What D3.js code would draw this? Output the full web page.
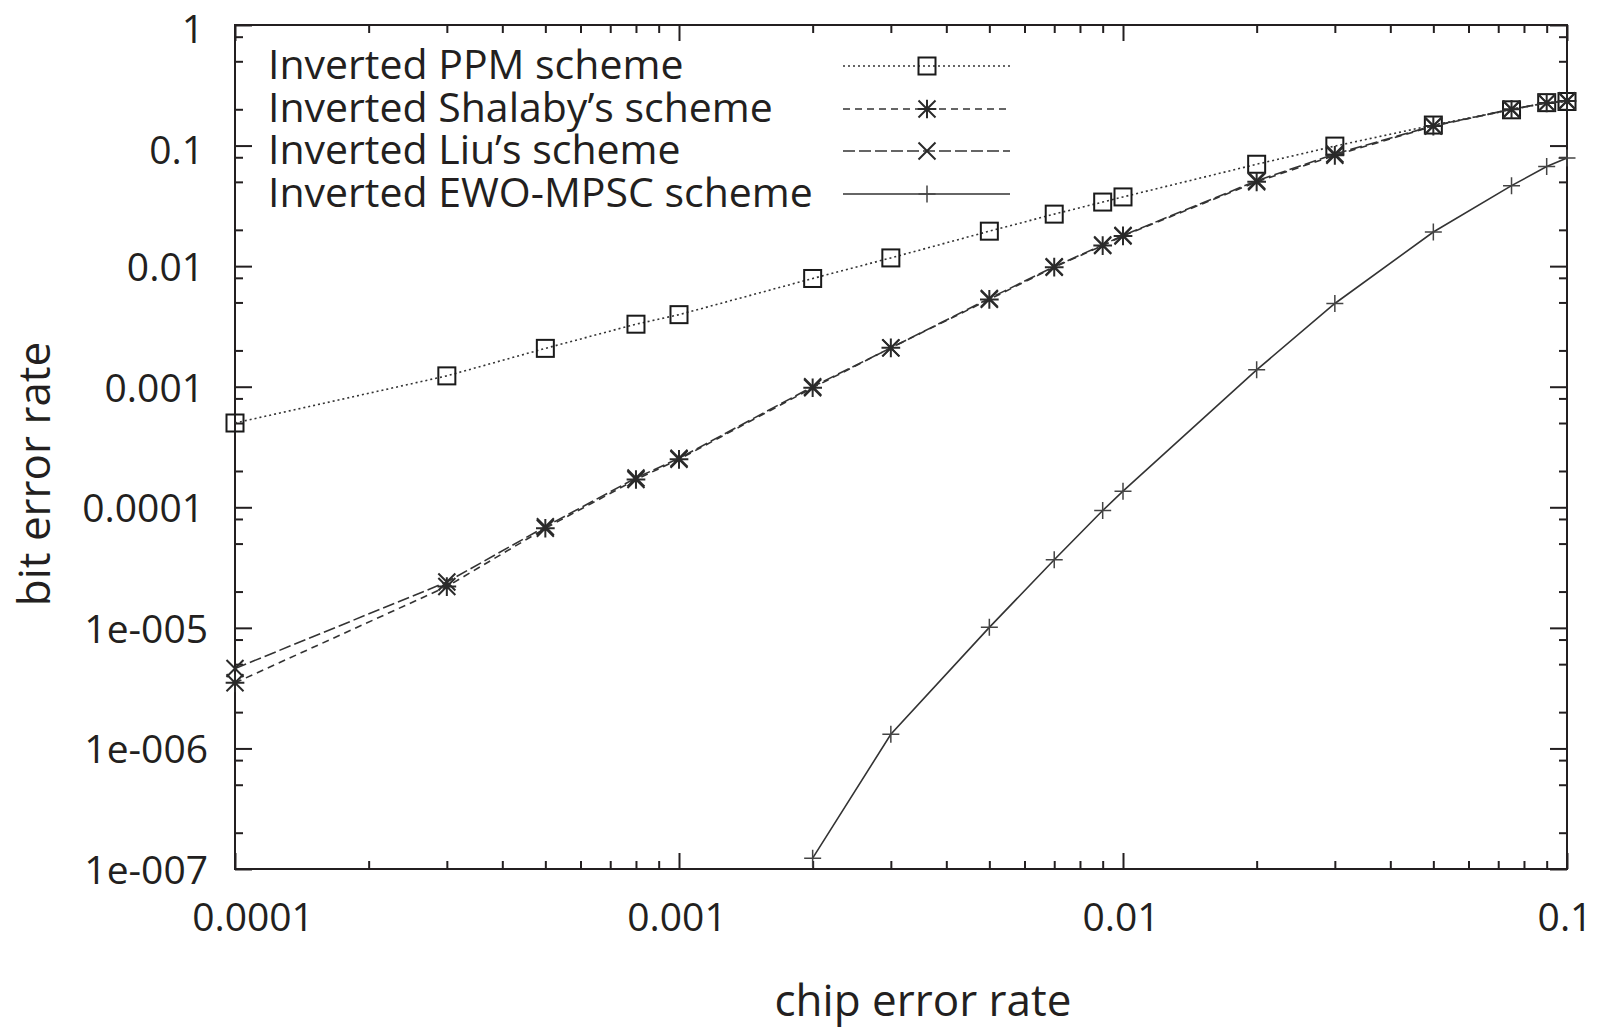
<!DOCTYPE html>
<html>
<head>
<meta charset="utf-8">
<script src="https://cdn.jsdelivr.net/npm/d3@7"></script>
<style>
  html, body { margin: 0; padding: 0; background: #fff; }
  svg { display: block; }
  text { font-family: "Open Sans", "Noto Sans", sans-serif; fill: #231f20; }
</style>
</head>
<body>
<svg id="chart" width="1602" height="1033"></svg>
<script>
// ---- data ----
const chipRates = [0.0001, 0.0003, 0.0005, 0.0008, 0.001, 0.002, 0.003, 0.005, 0.007, 0.009, 0.01, 0.02, 0.03, 0.05, 0.075, 0.09, 0.1];
const ppmBER      = [5.0e-4, 1.23e-3, 2.08e-3, 3.3e-3, 3.96e-3, 7.9e-3, 0.0117, 0.0195, 0.027, 0.034, 0.0375, 0.07, 0.099, 0.148, 0.198, 0.227, 0.232];
const shalabyBER  = [3.5e-6, 2.2e-5, 6.7e-5, 1.7e-4, 2.5e-4, 9.8e-4, 2.1e-3, 5.3e-3, 9.8e-3, 0.0148, 0.0178, 0.05, 0.083, 0.145, 0.2, 0.226, 0.234];
const liuBER      = [4.6e-6, 2.4e-5, 6.9e-5, 1.75e-4, 2.55e-4, 1.0e-3, 2.1e-3, 5.4e-3, 9.9e-3, 0.015, 0.018, 0.051, 0.085, 0.146, 0.2, 0.226, 0.234];
const ewoChipRates = [0.002, 0.003, 0.005, 0.007, 0.009, 0.01, 0.02, 0.03, 0.05, 0.075, 0.09, 0.1];
const ewoBER      = [1.23e-7, 1.31e-6, 1.01e-5, 3.67e-5, 9.4e-5, 1.36e-4, 1.38e-3, 4.9e-3, 0.0192, 0.0465, 0.067, 0.079];

const seriesNames = ["Inverted PPM scheme", "Inverted Shalaby\u2019s scheme", "Inverted Liu\u2019s scheme", "Inverted EWO-MPSC scheme"];

const xTickValues = [0.0001, 0.001, 0.01, 0.1];
const xTickLabels = ["0.0001", "0.001", "0.01", "0.1"];
const yTickValues = [1, 0.1, 0.01, 0.001, 0.0001, 1e-5, 1e-6, 1e-7];
const yTickLabels = ["1", "0.1", "0.01", "0.001", "0.0001", "1e-005", "1e-006", "1e-007"];
const xAxisTitle = "chip error rate";
const yAxisTitle = "bit error rate";

// ---- layout ----
const L = 235, R = 1567, T = 25, B = 869;
const ink = "#231f20";
const svg = d3.select("#chart");

const x = d3.scaleLog().domain([0.0001, 0.1]).range([L, R]);
const y = d3.scaleLog().domain([1e-7, 1]).range([B, T]);

// minor ticks
const xMinor = [];
for (let e = -4; e < -1; e++) for (let m = 2; m <= 9; m++) xMinor.push(m * Math.pow(10, e));
const yMinor = [];
for (let e = -7; e < 0; e++) for (const m of [2, 5, 8]) yMinor.push(m * Math.pow(10, e));

const axes = svg.append("g").attr("stroke", ink).attr("stroke-width", 2);
function tickAxis(axisFn, scale, vals, size, tx, ty) {
  const g = svg.append("g").attr("transform", `translate(${tx},${ty})`)
    .call(axisFn(scale).tickValues(vals).tickSize(size).tickFormat(""));
  g.select(".domain").remove();
  g.selectAll("line").attr("stroke", ink).attr("stroke-width", 2);
}
tickAxis(d3.axisBottom, x, xTickValues, -16, 0, B);
tickAxis(d3.axisBottom, x, xMinor, -8, 0, B);
tickAxis(d3.axisTop, x, xTickValues, -16, 0, T);
tickAxis(d3.axisTop, x, xMinor, -8, 0, T);
tickAxis(d3.axisLeft, y, yTickValues, -17, L, 0);
tickAxis(d3.axisLeft, y, yMinor, -8, L, 0);
tickAxis(d3.axisRight, y, yTickValues, -17, R, 0);
tickAxis(d3.axisRight, y, yMinor, -8, R, 0);

svg.append("rect").attr("x", L).attr("y", T).attr("width", R - L).attr("height", B - T)
  .attr("fill", "none").attr("stroke", ink).attr("stroke-width", 2);

// tick labels
svg.append("g").selectAll("text").data(xTickValues).join("text")
  .attr("x", (d, i) => x(d) + (i === 0 ? 18 : -2))
  .attr("y", 931)
  .attr("text-anchor", "middle")
  .attr("font-size", 39)
  .text((d, i) => xTickLabels[i]);

svg.append("g").selectAll("text").data(yTickValues).join("text")
  .attr("x", (d, i) => 204 + (i >= 5 ? 4 : 0))
  .attr("y", (d, i) => y(d) + 15 + (i < 2 ? 3 : 0))
  .attr("text-anchor", "end")
  .attr("font-size", 39)
  .text((d, i) => yTickLabels[i]);

// axis titles
svg.append("text").attr("x", 923).attr("y", 1016).attr("text-anchor", "middle")
  .attr("font-size", 44).text(xAxisTitle);
svg.append("text").attr("transform", "translate(50,474) rotate(-90)").attr("text-anchor", "middle")
  .attr("font-size", 44).text(yAxisTitle);

// ---- series ----
const styles = [
  { dash: "2,3", marker: "square", color: "#333" },
  { dash: "7,5", marker: "star", color: "#333" },
  { dash: "12,4", marker: "cross", color: "#333" },
  { dash: null, marker: "plus", color: "#333" }
];
const seriesData = [
  chipRates.map((c, i) => [c, ppmBER[i]]),
  chipRates.map((c, i) => [c, shalabyBER[i]]),
  chipRates.map((c, i) => [c, liuBER[i]]),
  ewoChipRates.map((c, i) => [c, ewoBER[i]])
];

const line = d3.line().x(d => x(d[0])).y(d => y(d[1]));

function drawMarker(g, type, cx, cy) {
  const s = 8.5;
  if (type === "square") {
    g.append("rect").attr("x", cx - s).attr("y", cy - s).attr("width", 2 * s).attr("height", 2 * s)
      .attr("fill", "none").attr("stroke", "#1a1a1a").attr("stroke-width", 2);
  } else if (type === "cross") {
    const p = d3.path();
    p.moveTo(cx - s, cy - s); p.lineTo(cx + s, cy + s);
    p.moveTo(cx - s, cy + s); p.lineTo(cx + s, cy - s);
    g.append("path").attr("d", p.toString()).attr("stroke", "#2a2a2a").attr("stroke-width", 2).attr("fill", "none");
  } else if (type === "star") {
    const p = d3.path();
    p.moveTo(cx - s, cy - s); p.lineTo(cx + s, cy + s);
    p.moveTo(cx - s, cy + s); p.lineTo(cx + s, cy - s);
    p.moveTo(cx - s * 1.1, cy); p.lineTo(cx + s * 1.1, cy);
    p.moveTo(cx, cy - s * 1.1); p.lineTo(cx, cy + s * 1.1);
    g.append("path").attr("d", p.toString()).attr("stroke", "#2a2a2a").attr("stroke-width", 2).attr("fill", "none");
  } else if (type === "plus") {
    const p = d3.path();
    p.moveTo(cx - s, cy); p.lineTo(cx + s, cy);
    p.moveTo(cx, cy - s); p.lineTo(cx, cy + s);
    g.append("path").attr("d", p.toString()).attr("stroke", "#444").attr("stroke-width", 1.5).attr("fill", "none");
  }
}

seriesData.forEach((data, si) => {
  const st = styles[si];
  const g = svg.append("g");
  g.append("path").datum(data).attr("d", line)
    .attr("fill", "none").attr("stroke", st.color).attr("stroke-width", 1.6)
    .attr("stroke-dasharray", st.dash);
  data.forEach(d => drawMarker(g, st.marker, x(d[0]), y(d[1])));
});

// ---- legend ----
const legendBaselines = [79, 122, 164, 207];
const leg = svg.append("g");
seriesNames.forEach((name, i) => {
  leg.append("text").attr("x", 268).attr("y", legendBaselines[i]).attr("font-size", 41).text(name);
  const ly = legendBaselines[i] - 13;
  leg.append("line").attr("x1", 843).attr("x2", 1010).attr("y1", ly).attr("y2", ly)
    .attr("stroke", styles[i].color).attr("stroke-width", 1.6).attr("stroke-dasharray", styles[i].dash);
  drawMarker(leg, styles[i].marker, 927, ly);
});
</script>
</body>
</html>
